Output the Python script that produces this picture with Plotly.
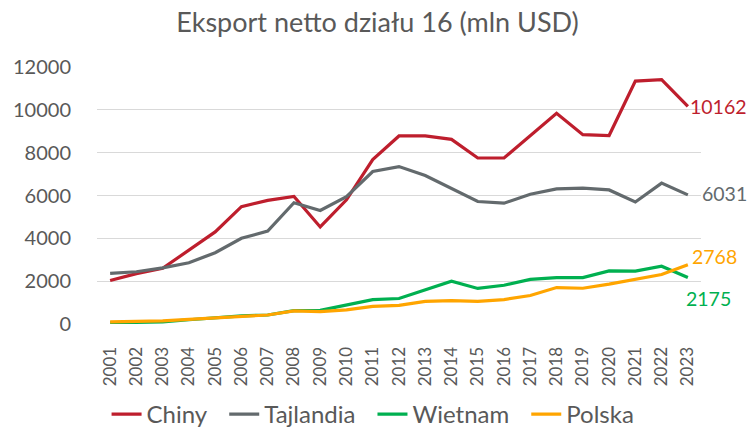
import plotly.graph_objects as go

years = [str(y) for y in range(2001, 2024)]
chiny = [2030, 2350, 2600, 3450, 4300, 5480, 5770, 5960, 4530, 5800, 7680, 8780, 8780,
         8620, 7750, 7750, 8790, 9840, 8840, 8800, 11340, 11410, 10162]
tajlandia = [2360, 2440, 2620, 2860, 3330, 4000, 4340, 5660, 5300, 5950, 7120, 7350, 6930,
             6340, 5720, 5640, 6060, 6310, 6340, 6260, 5700, 6580, 6031]
wietnam = [50, 60, 100, 200, 300, 380, 420, 620, 640, 900, 1140, 1190, 1610,
           2000, 1660, 1810, 2080, 2170, 2170, 2480, 2470, 2700, 2175]
polska = [100, 120, 150, 220, 280, 330, 420, 610, 580, 660, 820, 870, 1060,
          1090, 1060, 1140, 1330, 1700, 1670, 1860, 2080, 2310, 2768]
yticks = [0, 2000, 4000, 6000, 8000, 10000, 12000]

series = [
    ("Chiny", chiny, "#BE1E2D"),
    ("Tajlandia", tajlandia, "#636A6D"),
    ("Wietnam", wietnam, "#00B050"),
    ("Polska", polska, "#FFA500"),
]

FONT = "Lato"
fig = go.Figure()
for name, vals, col in series:
    fig.add_trace(go.Scatter(x=years, y=vals, name=name + "\u2002", mode="lines",
                             line=dict(color=col, width=3.2)))

# end labels (positioned at the last category index)
last = len(years) - 1
offsets = {"Chiny": (1, 0), "Tajlandia": (13, -1), "Wietnam": (-3, 21), "Polska": (3, -8)}
for name, vals, col in series:
    dx, dy = offsets[name]
    fig.add_annotation(x=last, y=vals[-1], xref="x", yref="y",
                       text=f"{vals[-1]}", showarrow=False, xanchor="left",
                       yanchor="middle", xshift=dx, yshift=-dy, borderpad=0,
                       font=dict(family=FONT, size=19.5, color=col))

fig.update_layout(
    width=755, height=427,
    margin=dict(l=97, r=54, t=67, b=103, autoexpand=False),
    paper_bgcolor="white", plot_bgcolor="white",
    title=dict(text="Eksport netto działu 16 (mln USD)", x=0.5, xanchor="center",
               y=0.948, yanchor="middle",
               font=dict(family=FONT, size=27, color="#595959")),
    font=dict(family=FONT, color="#595959"),
    showlegend=True,
    legend=dict(orientation="h", x=0.467, xanchor="center", y=-0.352, yanchor="middle",
                font=dict(family=FONT, size=24, color="#595959"),
                tracegroupgap=0),
)
fig.update_xaxes(type="category", range=[-0.5, last + 0.5], showgrid=False,
                 tickangle=-90, ticks="outside", ticklen=15, tickcolor="rgba(0,0,0,0)",
                 automargin=False,
                 tickfont=dict(family=FONT, size=17, color="#595959"), showline=False)
fig.update_yaxes(range=[0, 12000], tickvals=yticks, tickformat="d", showgrid=True,
                 gridcolor="#D9D9D9", gridwidth=1, zeroline=False,
                 ticks="outside", ticklen=21, tickcolor="rgba(0,0,0,0)", automargin=False,
                 tickfont=dict(family=FONT, size=20, color="#595959"), showline=False)

fig.write_html("out.html",
               config={"displayModeBar": False},
               post_script="document.body.style.margin='0';"
                           "document.body.style.overflow='hidden';")
